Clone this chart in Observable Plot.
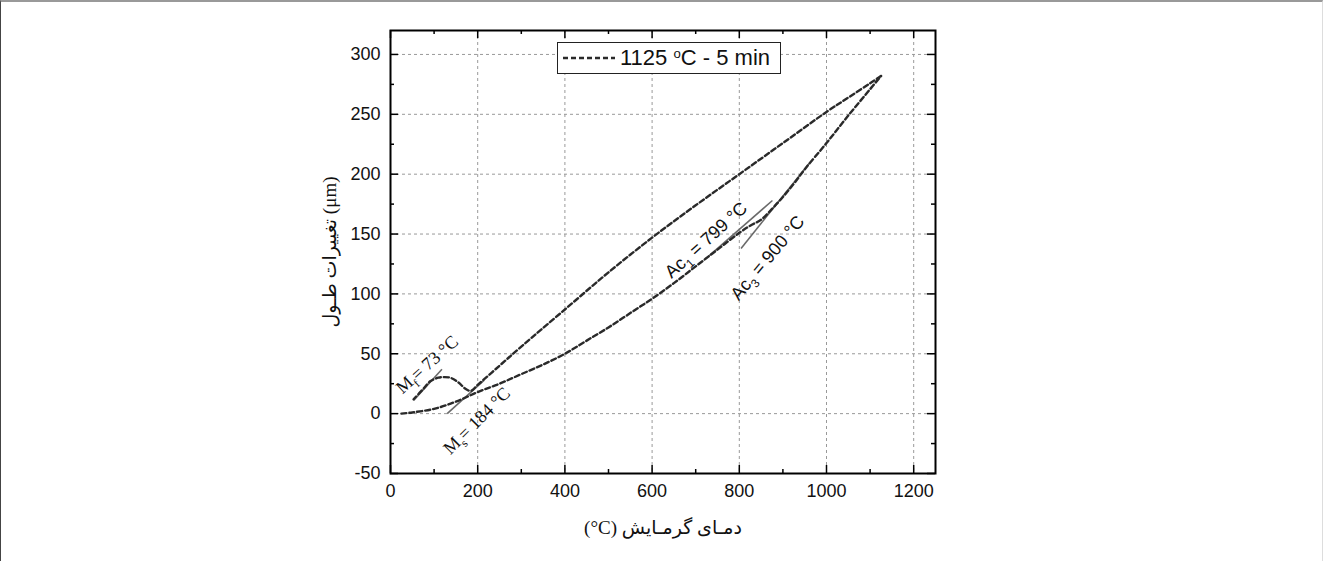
<!DOCTYPE html>
<html><head><meta charset="utf-8">
<script src="https://cdn.jsdelivr.net/npm/d3@7"></script>
<script src="https://cdn.jsdelivr.net/npm/@observablehq/plot@0.6"></script>
<style>
html,body{margin:0;padding:0;background:#fff;}
#wrap{position:relative;width:1323px;height:561px;overflow:hidden;background:#fff;}
#chart svg{display:block;}
#border{position:absolute;left:0;top:0;right:0;bottom:0;border-top:2px solid #999;border-left:1px solid #444;border-right:1px solid #ddd;pointer-events:none;}
#legend{position:absolute;left:557px;top:42px;width:224px;height:32px;box-sizing:border-box;border:1.5px solid #222;background:#fff;display:flex;align-items:center;font-family:"Liberation Sans",Arial,sans-serif;font-size:22px;color:#111;white-space:nowrap;}
#legend svg{margin-left:4px;margin-right:4px;}
#legend sup{font-size:0.6em;vertical-align:0.55em;line-height:0;}
</style></head><body>
<div id="wrap"><div id="chart"></div><div id="legend"></div><div id="border"></div></div>
<script>
// ---- data ----
const heatT  = [25, 50, 100, 150, 200, 250, 300, 350, 400, 450, 500, 550, 600, 650, 700, 750, 800, 825, 850, 875, 900, 925, 950, 1000, 1050, 1100, 1125];
const heatDL = [0, 1, 4, 10, 18, 25, 33, 41, 50, 61, 72, 84, 96, 109, 123, 137, 151, 157, 162, 171, 181, 192, 204, 226, 249, 271, 282];
const coolT  = [1125, 1100, 1050, 1000, 900, 800, 700, 600, 500, 400, 300, 250, 200, 184, 171, 156, 137, 120, 110, 91, 76, 53];
const coolDL = [282, 276, 264, 252, 226, 200, 174, 147, 118, 87, 56, 40, 24, 19, 21, 26, 30, 30.5, 30, 27, 21, 12];

const tanNames = ["Mf", "Ms", "Ac1", "Ac3"];
const tanX1 = [53, 130, 728, 804];
const tanY1 = [11, 0, 131, 138];
const tanX2 = [118, 215, 876, 960];
const tanY2 = [37, 28, 178, 209];

const annLabels = ["M_f= 73 °C", "M_s= 184 °C", "Ac_1 = 799 °C", "Ac_3 = 900 °C"];
const annT      = [84, 198, 724, 865];
const annDL     = [41, -6, 145, 130];
const annAngle  = [-42, -45, -42, -50];
const annSerif  = [true, true, false, false];

const xMajor = [0, 200, 400, 600, 800, 1000, 1200];
const xMinor = [100, 300, 500, 700, 900, 1100];
const yMajor = [-50, 0, 50, 100, 150, 200, 250, 300];
const yMinor = [-25, 25, 75, 125, 175, 225, 275];

const xLabel = "(°C) دمـای گرمـایش";
const yLabel = "تغییرات طـول (μm)";
const legendLabel = ["1125 ", "o", "C - 5 min"];

// ---- tables ----
const heating = heatT.map((t, i) => ({t, dl: heatDL[i]}));
const cooling = coolT.map((t, i) => ({t, dl: coolDL[i]}));
const tangents = tanNames.map((n, i) => ({n, x1: tanX1[i], y1: tanY1[i], x2: tanX2[i], y2: tanY2[i]}));
const ann = annLabels.map((label, i) => ({label, t: annT[i], dl: annDL[i], angle: annAngle[i], serif: annSerif[i]}));

// ---- layout ----
const W = 1323, H = 561, ML = 390, MR = 1323 - 935, MT = 30, MB = 561 - 473;
const innerW = W - ML - MR, innerH = H - MT - MB;
const lineStyle = {stroke: "#2a2a2a", strokeWidth: 2.4, strokeDasharray: "5,3", curve: "catmull-rom"};
const gridStyle = {stroke: "#999", strokeOpacity: 1, strokeWidth: 1, strokeDasharray: "3,3"};

const plot = Plot.plot({
  width: W, height: H,
  marginLeft: ML, marginRight: MR, marginTop: MT, marginBottom: MB,
  style: {fontFamily: "'Liberation Sans', Arial, sans-serif", fontSize: "18px", color: "#111", background: "transparent"},
  x: {domain: [0, 1250]},
  y: {domain: [-50, 320]},
  marks: [
    Plot.gridX({ticks: xMajor.filter(v => v > 0), ...gridStyle}),
    Plot.gridY({ticks: yMajor.filter(v => v > -50), ...gridStyle}),
    Plot.link(tangents, {x1: "x1", y1: "y1", x2: "x2", y2: "y2", stroke: "#6a6a6a", strokeWidth: 1.6}),
    Plot.line(heating, {x: "t", y: "dl", ...lineStyle}),
    Plot.line(cooling, {x: "t", y: "dl", ...lineStyle}),
    // inward ticks on all four sides
    Plot.tickX(xMajor, {x: d => d, insetTop: innerH - 8, stroke: "#000", strokeWidth: 1.5}),
    Plot.tickX(xMajor, {x: d => d, insetBottom: innerH - 8, stroke: "#000", strokeWidth: 1.5}),
    Plot.tickX(xMinor, {x: d => d, insetTop: innerH - 4, stroke: "#000", strokeWidth: 1.5}),
    Plot.tickX(xMinor, {x: d => d, insetBottom: innerH - 4, stroke: "#000", strokeWidth: 1.5}),
    Plot.tickY(yMajor, {y: d => d, insetRight: innerW - 8, stroke: "#000", strokeWidth: 1.5}),
    Plot.tickY(yMajor, {y: d => d, insetLeft: innerW - 8, stroke: "#000", strokeWidth: 1.5}),
    Plot.tickY(yMinor, {y: d => d, insetRight: innerW - 4, stroke: "#000", strokeWidth: 1.5}),
    Plot.tickY(yMinor, {y: d => d, insetLeft: innerW - 4, stroke: "#000", strokeWidth: 1.5}),
    Plot.frame({stroke: "#000", strokeWidth: 2}),
    Plot.axisX({ticks: xMajor, tickSize: 0, tickPadding: 11, tickFormat: d => String(d),
      label: xLabel, labelAnchor: "center", labelOffset: 60, labelArrow: "none"}),
    Plot.axisY({ticks: yMajor, tickSize: 0, tickPadding: 10, tickFormat: d => String(d),
      label: yLabel, labelAnchor: "center", labelOffset: 68, labelArrow: "none"}),
    Plot.text(ann.filter(d => d.serif), {x: "t", y: "dl", text: "label", rotate: "angle",
      fontFamily: "'Liberation Serif', 'Times New Roman', serif", fontSize: 18, fill: "#111"}),
    Plot.text(ann.filter(d => !d.serif), {x: "t", y: "dl", text: "label", rotate: "angle",
      fontFamily: "'Liberation Sans', Arial, sans-serif", fontSize: 18, fill: "#111"})
  ]
});
document.getElementById("chart").appendChild(plot);

// style axis labels (serif) and build subscripts
const svg = d3.select(plot);
svg.selectAll('g[aria-label="x-axis label"] text, g[aria-label="y-axis label"] text')
  .attr("font-family", "'Liberation Serif', 'DejaVu Sans', serif")
  .attr("font-size", 19);
svg.selectAll("text").each(function() {
  const s = this.textContent;
  const m = s.match(/^(.*?)_(\w)(.*)$/);
  if (!m) return;
  const el = d3.select(this);
  el.selectAll("*").remove();
  this.textContent = "";
  el.append("tspan").text(m[1]);
  el.append("tspan").attr("dy", 5).attr("font-size", 12).text(m[2]);
  el.append("tspan").attr("dy", -5).text(m[3]);
});

// legend
const lg = d3.select("#legend");
const ls = lg.append("svg").attr("width", 54).attr("height", 20);
ls.append("line").attr("x1", 1).attr("x2", 53).attr("y1", 10).attr("y2", 10)
  .attr("stroke", "#2a2a2a").attr("stroke-width", 2.4).attr("stroke-dasharray", "5,3");
const sp = lg.append("span");
sp.append("span").text(legendLabel[0]);
sp.append("sup").text(legendLabel[1]);
sp.append("span").text(legendLabel[2]);
</script>
</body></html>
